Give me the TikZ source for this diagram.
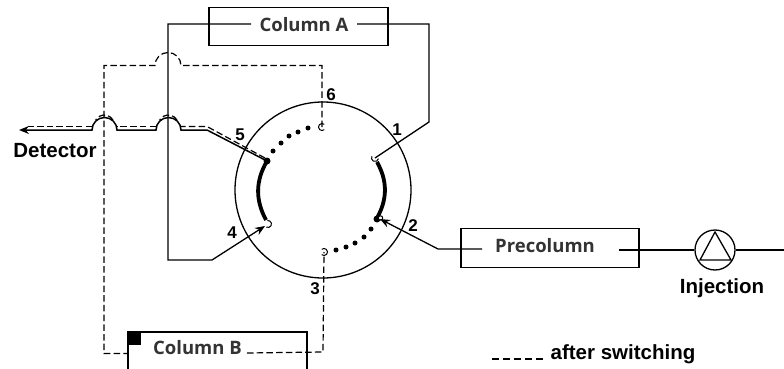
\documentclass[tikz,border=0pt]{standalone}
\usepackage{fontspec}
\usetikzlibrary{arrows.meta}
\setmainfont{Liberation Sans}
\newfontfamily\boxfont{Open Sans}

\begin{document}
\begin{tikzpicture}
[x=1pt,y=-1pt,>={Stealth[length=10pt,width=8pt]},line width=1.3pt,
point/.style={circle,fill=black,inner sep=0pt,minimum size=5pt},
box/.style={draw,line width=1.4pt,inner sep=0pt,minimum width=#1,minimum height=38.5pt},
boxtext/.style={font=\boxfont\bfseries\fontsize{18.5}{20}\selectfont,text=black!80,inner sep=0pt},
lab/.style={font=\bfseries\fontsize{20.5}{22}\selectfont,inner sep=0pt},
num/.style={font=\bfseries\fontsize{17}{20}\selectfont,inner sep=0pt},
after/.style={dash pattern=on 6.5pt off 3.2pt,line width=1.2pt},
thickarc/.style={line width=3.8pt},]

\useasboundingbox (0,0) rectangle (784,369);

%Valve
\node (V) at (323,190)[draw,circle,inner sep=0pt,minimum size=176pt] {};

%Ports
\coordinate (P1) at (375,158);
\coordinate (P2) at (380,219);
\coordinate (P3) at (324,252);
\coordinate (P4) at (265,226);
\coordinate (P4h) at (268,224);
\coordinate (P5) at (267,161);
\coordinate (P6) at (322,127);

%Port labels
\node (L1) at (397,130)[num] {1};
\node (L2) at (413,226)[num] {2};
\node (L3) at (315,289)[num] {3};
\node (L4) at (232,233)[num] {4};
\node (L5) at (240,135)[num] {5};
\node (L6) at (331,95)[num] {6};

%Thick channels
\draw[thickarc] (377,162) to[bend left=29] (377,218);
\draw[thickarc] (P5) to[bend right=29] (266,220);
\node (E2) at (377,219)[point,minimum size=7pt] {};
\node (E5) at (P5)[point,minimum size=7pt] {};

%Dotted channels
\foreach \i/\x/\y in {1/308/128,2/298/132,3/289/136,4/281/143,5/273/151}
  \node (A\i) at (\x,\y)[point] {};
\foreach \i/\x/\y in {1/336/250,2/346/247,3/355/243,4/364/237,5/371/229}
  \node (B\i) at (\x,\y)[point] {};

%Port hooks
\foreach \p/\a/\b in {P6/-50/-310,P3/130/-130,P1/-150/-350,P4h/120/-100}
  \draw[line width=1pt] ([shift={(\a:3.5)}]\p) arc (\a:\b:3.5);
\draw[line width=1pt,fill=white] (380.5,218) circle (2.2);

%Boxes
\node (ColA) at (298.5,26.5)[box=179pt] {};
\node (ColAtext) at (304,25)[boxtext] {Column A};
\node (Pre) at (550,248)[box=178pt] {};
\node (Pretext) at (545,246)[boxtext] {Precolumn};
\node (ColBtext) at (197.5,348)[boxtext] {Column B};

%Column B runs off the page
\coordinate (CBl) at (128,369);
\coordinate (CBr) at (307,369);
\coordinate (CBt) at (307,332);
\draw[line width=1.4pt] (CBl) |- (CBt) -- (CBr);
\fill (128,332) rectangle (141,345);

%Injection
\node (Inj) at (715,250)[draw,circle,inner sep=0pt,minimum size=40pt] {};
\coordinate (T1) at (715,232);
\coordinate (T2) at (700,260);
\coordinate (T3) at (731,260);
\draw (T1) -- (T2) -- (T3) -- cycle;
\node (Injtext) at (722,288)[lab] {Injection};
\coordinate (In) at (784,250);

%Solid connectors
\coordinate (CA1) at (251,24);
\coordinate (CA2) at (357,24);
\coordinate (C1) at (429,24);
\coordinate (C2) at (429,122);
\coordinate (C3) at (168,24);
\coordinate (C4) at (168,260);
\coordinate (C5) at (212,260);
\coordinate (C6) at (438,249);
\coordinate (PR1) at (482,249);
\coordinate (PR2) at (619,250);

\draw (In) -- (Inj);
\draw (Inj) -- (PR2);
\draw[->] (PR1) -- (C6) -- (P2);
\draw (CA2) -- (C1) -- (C2) -- (P1);
\draw[->] (CA1) -- (C3) -- (C4) -- (C5) -- (P4);

%Detector line with its two bumps
\coordinate (S1) at (207,130);
\coordinate (S2) at (181,130);
\coordinate (S3) at (117,130);
\coordinate (Det) at (19,130);
\draw[->,line width=1.5pt] (P5) -- (S1) -- (S2) arc (0:-180:12.5) -- (S3) arc (0:-180:12.5) -- (Det);
\node (Dettext) at (55,151)[lab] {Detector};

%After switching
\coordinate (D1) at (265,158);
\coordinate (D2) at (207,126.5);
\coordinate (D3) at (181,126.5);
\coordinate (D4) at (156,126.5);
\coordinate (D5) at (117,126.5);
\coordinate (D6) at (92,126.5);
\coordinate (D7) at (28,126.5);
\draw[after] (D1) -- (D2) -- (D3);
\draw[after] (D4) -- (D5);
\draw[after] (D6) -- (D7);
\draw[after] (177,120) arc (-30:-150:10);
\draw[after] (113,120) arc (-30:-150:10);

\coordinate (F2) at (322,65.5);
\coordinate (F3) at (181,65.5);
\coordinate (F5) at (104,65.5);
\coordinate (F6) at (104,353.5);
\coordinate (F7) at (128,353.5);
\coordinate (F8) at (323,352);
\coordinate (F9) at (247,353);
\draw[after] (P6) -- (F2) -- (F3) arc (0:-180:13) -- (F5) -- (F6) -- (F7);
\draw[after] (F9) -- (F8) -- (P3);

%Legend
\coordinate (K1) at (492,359);
\coordinate (K2) at (546,359);
\draw[after,dash pattern=on 7pt off 4pt] (K1) -- (K2);
\node (Keytext) at (623,354)[lab] {after switching};

\end{tikzpicture}
\end{document}
